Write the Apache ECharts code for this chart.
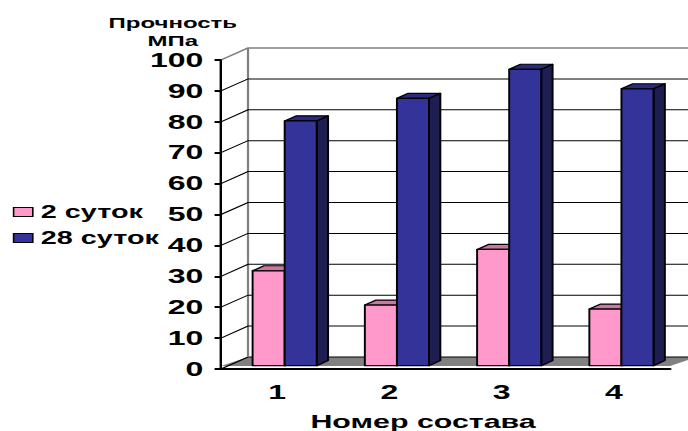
<!DOCTYPE html>
<html>
<head>
<meta charset="utf-8">
<script src="https://cdn.jsdelivr.net/npm/echarts@6/dist/echarts.min.js"></script>
<style>
html, body { margin: 0; padding: 0; background: #fff; overflow: hidden; }
/* the original picture is stretched sideways, so draw narrow and stretch */
#chart { width: 430px; height: 431px; transform: scaleX(1.6); transform-origin: 0 0; }
</style>
</head>
<body>
<div id="chart"></div>
<script>
const categories = ['1', '2', '3', '4'];
const days2 = [30.7, 19.6, 37.6, 18.3];
const days28 = [79.2, 86.5, 95.9, 89.6];
const yTicks = [0, 10, 20, 30, 40, 50, 60, 70, 80, 90, 100];

const font = '"Liberation Sans", Arial, sans-serif';

// 3d depth offset of the back wall and where the bars sit in depth
const DX = 16.9, DY = -12;
const F0 = 0.28, F1 = 0.70;
const BAR = 2 / 7;

function barItem(left, front, topCol, sideCol) {
    return function (params, api) {
        const cat = api.value(0);
        const top = api.coord([cat, api.value(1)]);
        const base = api.coord([cat, 0]);
        const bw = api.size([1, 0])[0] * BAR;
        const l = left ? top[0] - bw : top[0];
        const r = l + bw;
        const ax = DX * F0, ay = DY * F0, bx = DX * F1, by = DY * F1;
        const st = { stroke: '#000', lineWidth: 1.2, lineJoin: 'round' };
        return {
            type: 'group',
            children: [
                {
                    type: 'polygon',
                    shape: { points: [[r + ax, top[1] + ay], [r + bx, top[1] + by], [r + bx, base[1] + by], [r + ax, base[1] + ay]] },
                    style: Object.assign({ fill: sideCol }, st)
                },
                {
                    type: 'polygon',
                    shape: { points: [[l + ax, top[1] + ay], [r + ax, top[1] + ay], [r + bx, top[1] + by], [l + bx, top[1] + by]] },
                    style: Object.assign({ fill: topCol }, st)
                },
                {
                    type: 'rect',
                    shape: { x: l + ax, y: top[1] + ay, width: bw, height: base[1] - top[1] },
                    style: Object.assign({ fill: front }, st)
                }
            ]
        };
    };
}

function wallItem(params, api) {
    const cs = params.coordSys;
    const x0 = cs.x, x1 = cs.x + cs.width;
    const v = api.value(1);
    const y = api.coord([0, v])[1];
    const isTop = v === yTicks[yTicks.length - 1];
    const col = isTop ? '#808080' : '#000';
    const children = [{
        type: 'polyline',
        shape: { points: [[x0, y], [x0 + DX, y + DY], [x1 + DX + 20, y + DY]] },
        style: { stroke: col, lineWidth: isTop ? 1.5 : 1, fill: null }
    }];
    if (v === 0) {
        const yTop = api.coord([0, yTicks[yTicks.length - 1]])[1];
        children.unshift({
            type: 'polygon',
            shape: { points: [[x0, y - 3], [x1, y - 3], [x1 + DX, y + DY], [x0 + DX, y + DY]] },
            style: { fill: '#808080' }
        });
        children.push({
            type: 'line',
            shape: { x1: x0 + DX, y1: y + DY, x2: x0 + DX, y2: yTop + DY },
            style: { stroke: '#808080', lineWidth: 1.4 }
        });
    }
    return { type: 'group', children: children };
}

const option = {
    animation: false,
    grid: { left: 138.1, right: 11.25, top: 60, bottom: 62, containLabel: false, outerBoundsMode: 'none' },
    legend: {
        orient: 'vertical',
        left: 8,
        top: 203,
        padding: 0,
        itemWidth: 12,
        itemHeight: 9,
        itemGap: 8,
        icon: 'rect',
        itemStyle: { borderColor: '#000', borderWidth: 1 },
        textStyle: { fontFamily: font, fontWeight: 'bold', fontSize: 18, color: '#000' },
        data: ['2 суток', '28 суток']
    },
    graphic: [{
        type: 'text',
        x: 108,
        y: 14,
        style: {
            text: 'Прочность\nМПа',
            align: 'center',
            verticalAlign: 'top',
            fontFamily: font,
            fontWeight: 'bold',
            fontSize: 15,
            lineHeight: 18,
            fill: '#000'
        }
    }],
    xAxis: {
        type: 'category',
        data: categories,
        z: 3,
        axisLine: { lineStyle: { color: '#000', width: 2 } },
        axisTick: { length: 7, lineStyle: { color: '#000', width: 1.5 } },
        axisLabel: { margin: 13, fontFamily: font, fontWeight: 'bold', fontSize: 20, color: '#000' },
        name: 'Номер состава',
        nameLocation: 'middle',
        nameGap: 43,
        nameTextStyle: { fontFamily: font, fontWeight: 'bold', fontSize: 19, color: '#000', padding: [0, 28, 0, 0] }
    },
    yAxis: {
        type: 'value',
        min: 0,
        max: 100,
        interval: 10,
        z: 3,
        axisLine: { show: true, lineStyle: { color: '#000', width: 1.5 } },
        axisTick: { show: true, length: 4, lineStyle: { color: '#000', width: 2 } },
        axisLabel: { margin: 11, fontFamily: font, fontWeight: 'bold', fontSize: 20, color: '#000' },
        splitLine: { show: false }
    },
    series: [
        {
            type: 'custom',
            name: 'walls',
            z: 1,
            silent: true,
            renderItem: wallItem,
            data: yTicks.map(v => [0, v])
        },
        {
            type: 'custom',
            name: '2 суток',
            z: 2,
            itemStyle: { color: '#FF99CC' },
            renderItem: barItem(true, '#FF99CC', '#CC77A2', '#B35C88'),
            data: days2.map((v, i) => [i, v])
        },
        {
            type: 'custom',
            name: '28 суток',
            z: 2,
            itemStyle: { color: '#333399' },
            renderItem: barItem(false, '#333399', '#2A2A80', '#1E1E52'),
            data: days28.map((v, i) => [i, v])
        }
    ]
};

const myChart = echarts.init(document.getElementById('chart'), null, { renderer: 'svg' });
myChart.setOption(option);
</script>
</body>
</html>
